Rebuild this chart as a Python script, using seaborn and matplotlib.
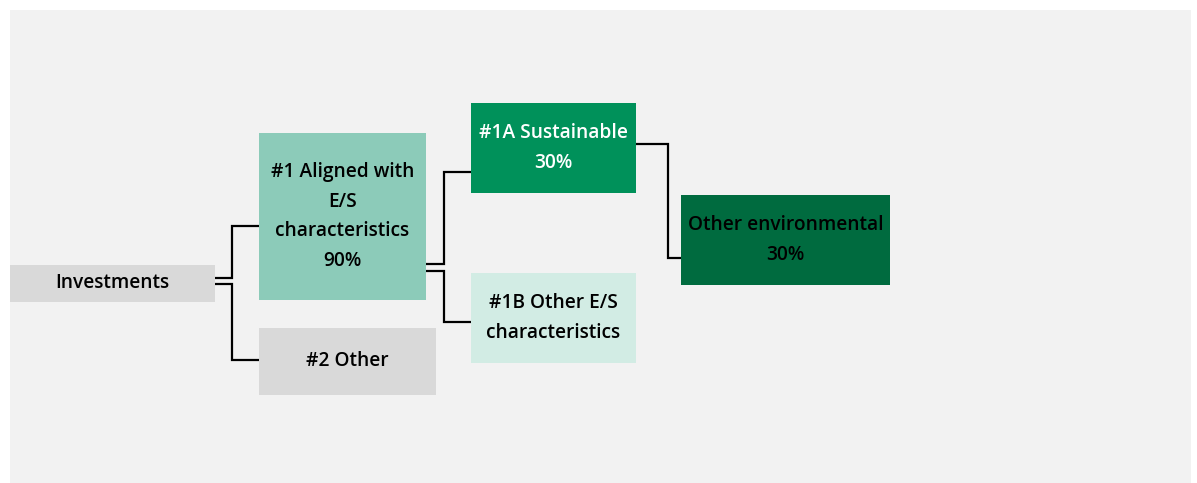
import matplotlib
matplotlib.use('Agg')
import matplotlib.pyplot as plt
from matplotlib.patches import Rectangle
import seaborn as sns

# node data
node_names = ['Investments', '#1 Aligned with\nE/S\ncharacteristics\n90%', '#2 Other',
              '#1A Sustainable\n30%', '#1B Other E/S\ncharacteristics',
              'Other environmental\n30%']
node_colors = ['#d9d9d9', '#8ccbb9', '#d9d9d9', '#00915a', '#d2ece4', '#006b3f']
text_colors = ['#000000', '#000000', '#000000', '#ffffff', '#000000', '#000000']
# parent -> child links
links = [(0, 1), (0, 2), (1, 3), (1, 4), (3, 5)]

# layout (pixels): x0, y0, x1, y1
boxes = [(10, 265, 215, 302), (259, 133, 426, 300), (259, 328, 436, 395),
         (471, 103, 636, 193), (471, 273, 636, 363), (681, 195, 890, 285)]
# connector routes: start y at parent, elbow x, end y at child
routes = {(0, 1): (278, 232, 226), (0, 2): (284, 232, 360),
          (1, 3): (264, 444, 172), (1, 4): (271, 444, 322),
          (3, 5): (144, 668, 258)}

sns.set_theme(style='white')
plt.rcParams['font.family'] = ['Open Sans', 'DejaVu Sans']

fig = plt.figure(figsize=(11.97, 4.83), dpi=100)
ax = fig.add_axes([0, 0, 1, 1])
ax.set_xlim(0, 1197)
ax.set_ylim(483, 0)
ax.set_axis_off()

ax.add_patch(Rectangle((10, 10), 1181, 473, facecolor='#f2f2f2', edgecolor='none', zorder=0))

for (p, c) in links:
    y0, xm, y1 = routes[(p, c)]
    xs = boxes[p][2]
    xe = boxes[c][0]
    ax.plot([xs, xm, xm, xe], [y0, y0, y1, y1], color='black', lw=1.6,
            solid_joinstyle='miter', zorder=1)

for name, fc, tc, (x0, y0, x1, y1) in zip(node_names, node_colors, text_colors, boxes):
    ax.add_patch(Rectangle((x0, y0), x1 - x0, y1 - y0, facecolor=fc, edgecolor='none', zorder=2))
    ax.text((x0 + x1) / 2, (y0 + y1) / 2, name, ha='center', va='center',
            color=tc, fontsize=13.8, fontweight='semibold', linespacing=1.66, zorder=3)

fig.savefig('out.png', dpi=100)
